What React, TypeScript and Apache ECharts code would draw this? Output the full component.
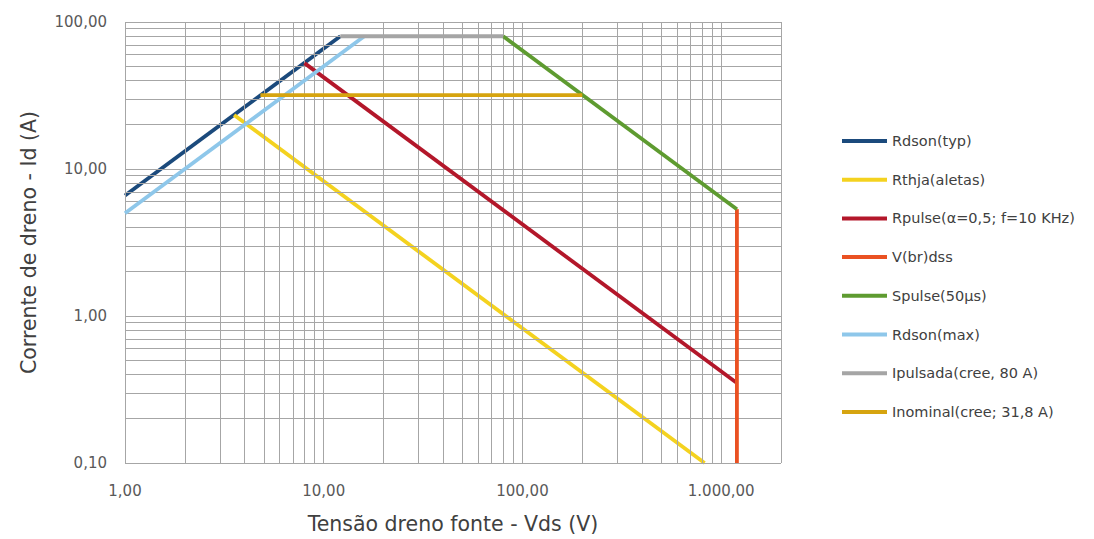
import React, { useEffect, useRef } from "react";
import * as echarts from "echarts";

// ---- Data ----
const seriesNames = [
  "Rdson(typ)",
  "Rthja(aletas)",
  "Rpulse(α=0,5; f=10 KHz)",
  "V(br)dss",
  "Spulse(50µs)",
  "Rdson(max)",
  "Ipulsada(cree, 80 A)",
  "Inominal(cree; 31,8 A)",
];
const seriesColors = [
  "#1b4a7c",
  "#f4d21f",
  "#b3172a",
  "#ea5122",
  "#5e9b30",
  "#8ec7ea",
  "#a5a5a5",
  "#d6a40f",
];

const rdsonTyp = [[1, 6.6], [12.12, 80]];
const rthja = [[3.54, 23.3], [825, 0.1]];
const rpulse = [[8, 52.5], [1200, 0.35]];
const vbrdss = [[1200, 0.1], [1200, 5.33]];
const spulse = [[80, 80], [1200, 5.33]];
const rdsonMax = [[1, 5], [16, 80]];
const ipulsada = [[12.12, 80], [80, 80]];
const inominal = [[4.8, 31.8], [200, 31.8]];

const xTicks = [1, 10, 100, 1000];
const xTickLabels = ["1,00", "10,00", "100,00", "1.000,00"];
const yTicks = [0.1, 1, 10, 100];
const yTickLabels = ["0,10", "1,00", "10,00", "100,00"];

const xGridValues = [
  1, 2, 3, 4, 5, 6, 7, 8, 9,
  10, 20, 30, 40, 50, 60, 70, 80, 90,
  100, 200, 300, 400, 500, 600, 700, 800, 900,
  1000, 2000,
];
const yGridValues = [
  0.1, 0.2, 0.3, 0.4, 0.5, 0.6, 0.7, 0.8, 0.9,
  1, 2, 3, 4, 5, 6, 7, 8, 9,
  10, 20, 30, 40, 50, 60, 70, 80, 90,
  100,
];

const xTitle = "Tensão dreno fonte - Vds (V)";
const yTitle = "Corrente de dreno - Id (A)";

function pickLabel(v: number, ticks: number[], labels: string[]) {
  for (let i = 0; i < ticks.length; i++) {
    if (Math.abs(Math.log10(v) - Math.log10(ticks[i])) < 0.01) return labels[i];
  }
  return "";
}

export default function App() {
  const ref = useRef<HTMLDivElement>(null);
  useEffect(() => {
    if (!ref.current) return;
    const chart = echarts.init(ref.current, undefined, { renderer: "svg" });
    const allData = [rdsonTyp, rthja, rpulse, vbrdss, spulse, rdsonMax, ipulsada, inominal];
    const gridColor = "#a6a6a6";
    const lineSeries = seriesNames.map((name, i) => ({
      name,
      type: "line",
      data: allData[i],
      showSymbol: false,
      symbol: "none",
      z: 3 + i,
      lineStyle: { color: seriesColors[i], width: 3.8 },
      itemStyle: { color: seriesColors[i] },
      emphasis: { disabled: true },
      clip: true,
    }));
    chart.setOption({
      animation: false,
      backgroundColor: "#ffffff",
      grid: { left: 125, top: 22, width: 656, height: 441, containLabel: false },
      legend: {
        data: seriesNames,
        orient: "vertical",
        left: 837,
        top: 128,
        itemWidth: 45,
        itemHeight: 4,
        itemGap: 22.7,
        icon: "rect",
        selectedMode: false,
        textStyle: {
          fontFamily: "DejaVu Sans",
          fontSize: 14.5,
          color: "#404040",
          lineHeight: 16,
        },
      },
      xAxis: {
        type: "log",
        logBase: 10,
        min: 1,
        max: 2000,
        axisLine: { show: false },
        axisTick: { show: false },
        splitLine: { show: false },
        axisLabel: {
          margin: 20,
          fontFamily: "DejaVu Sans",
          fontSize: 15,
          color: "#595959",
          showMaxLabel: false,
          formatter: (v: number) => pickLabel(v, xTicks, xTickLabels),
        },
        name: xTitle,
        nameLocation: "middle",
        nameGap: 50,
        nameTextStyle: { fontFamily: "DejaVu Sans", fontSize: 20.5, color: "#404040" },
      },
      yAxis: {
        type: "log",
        logBase: 10,
        min: 0.1,
        max: 100,
        axisLine: { show: false },
        axisTick: { show: false },
        splitLine: { show: false },
        axisLabel: {
          margin: 18,
          fontFamily: "DejaVu Sans",
          fontSize: 15,
          color: "#595959",
          formatter: (v: number) => pickLabel(v, yTicks, yTickLabels),
        },
        name: yTitle,
        nameLocation: "middle",
        nameGap: 86,
        nameTextStyle: { fontFamily: "DejaVu Sans", fontSize: 20.5, color: "#404040" },
      },
      series: [
        {
          name: "__grid",
          type: "line",
          data: [],
          z: 1,
          silent: true,
          markLine: {
            silent: true,
            symbol: ["none", "none"],
            label: { show: false },
            emphasis: { disabled: true },
            lineStyle: { color: gridColor, width: 1, type: "solid" },
            data: [
              ...xGridValues.map((v) => ({ xAxis: v })),
              ...yGridValues.map((v) => ({ yAxis: v })),
            ],
          },
        },
        ...lineSeries,
      ],
    });
    return () => chart.dispose();
  }, []);
  return (
    <div
      ref={ref}
      style={{ position: "fixed", left: 0, top: 0, width: 1094, height: 539 }}
    />
  );
}
